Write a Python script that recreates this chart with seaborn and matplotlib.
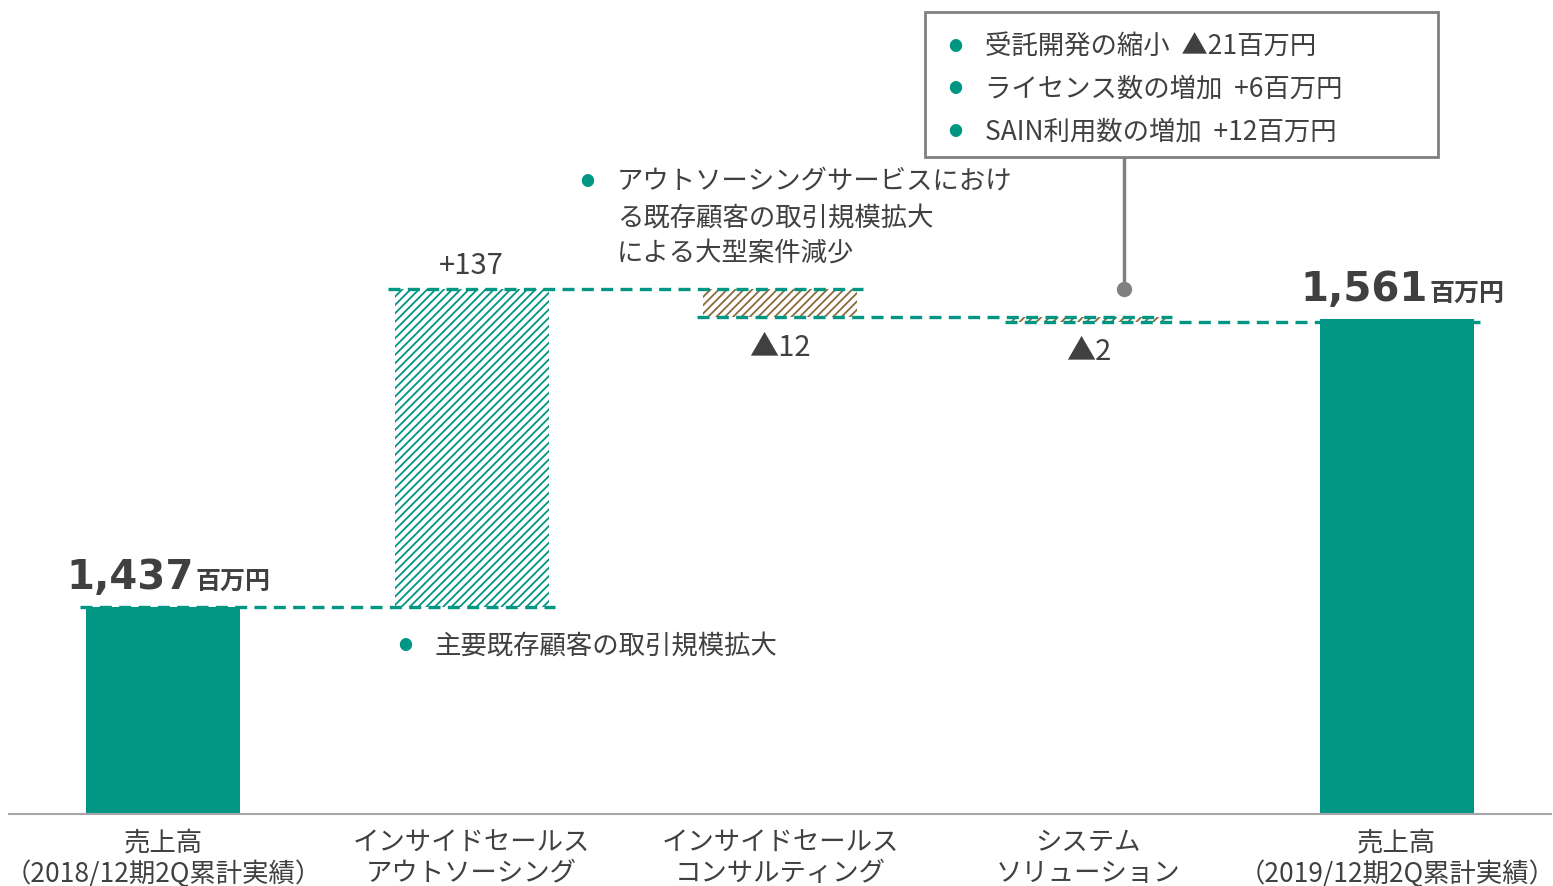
import matplotlib
matplotlib.use('Agg')
import matplotlib.pyplot as plt
import matplotlib.patches as mpatches
import seaborn as sns
import pandas as pd

# データ
categories = ['売上高\n（2018/12期2Q累計実績）', 'インサイドセールス\nアウトソーシング',
              'インサイドセールス\nコンサルティング', 'システム\nソリューション',
              '売上高\n（2019/12期2Q累計実績）']
values = [1437, 137, -12, -2, 1561]
delta_labels = ['', '+137', '▲12', '▲2', '']
total_labels = ['1,437', '', '', '', '1,561']

teal = '#009684'
brown = '#8B6A3A'
gray_txt = '#404040'

sns.set_theme(style='white')
plt.rcParams['font.family'] = ['Noto Sans CJK JP', 'DejaVu Sans']
plt.rcParams['hatch.linewidth'] = 1.3

# 累積値
bottoms, tops, levels = [], [], []
level = 0
for i, v in enumerate(values):
    if i == 0 or i == len(values) - 1:
        bottoms.append(0)
        tops.append(v)
        level = v
    else:
        new = level + v
        bottoms.append(min(level, new))
        tops.append(max(level, new))
        level = new
    levels.append(level)

df = pd.DataFrame({'cat': categories, 'top': tops})

W, H = 1553, 886
fig = plt.figure(figsize=(W / 100, H / 100), dpi=100)
ax = fig.add_axes([9 / W, 72 / H, 1542 / W, 814 / H])

sns.barplot(data=df, x='cat', y='top', ax=ax, width=0.5, color=teal, saturation=1)

for i, p in enumerate(ax.patches):
    p.set_y(bottoms[i])
    p.set_height(tops[i] - bottoms[i])
    if i == 1:
        p.set_facecolor('white')
        p.set_edgecolor(teal)
        p.set_hatch('////')
        p.set_linewidth(0)
    elif i in (2, 3):
        p.set_facecolor('white')
        p.set_edgecolor(brown)
        p.set_hatch('////')
        p.set_linewidth(0)
    else:
        p.set_linewidth(0)

# 点線のコネクタ
for i in range(len(values) - 1):
    ax.plot([i - 0.27, i + 1.27], [levels[i], levels[i]], color=teal, lw=2.4,
            ls=(0, (3.6, 2.2)), zorder=5)

ax.set_ylim(1348, 1698.5)
ax.set_xlim(-0.5, 4.5)
ax.set_xlabel('')
ax.set_ylabel('')
ax.set_yticks([])
for s in ['top', 'left', 'right']:
    ax.spines[s].set_visible(False)
ax.spines['bottom'].set_color('#A6A6A6')
ax.spines['bottom'].set_linewidth(1.5)
ax.tick_params(axis='x', length=0, pad=11, labelsize=19, labelcolor=gray_txt)
for t in ax.get_xticklabels():
    t.set_linespacing(1.2)

# 増減ラベル
for i, lab in enumerate(delta_labels):
    if not lab:
        continue
    if values[i] > 0:
        ax.annotate(lab, (i, tops[i]), xytext=(0, 17), textcoords='offset points',
                    ha='center', va='center', fontsize=21, color=gray_txt)
    else:
        ax.annotate(lab, (i, bottoms[i]), xytext=(0, -22), textcoords='offset points',
                    ha='center', va='center', fontsize=21, color=gray_txt)

# 合計ラベル
for i, lab in enumerate(total_labels):
    if not lab:
        continue
    ax.annotate(lab, (i + 0.1, tops[i]), xytext=(0, 13), textcoords='offset points',
                ha='right', va='baseline', fontsize=29, fontweight='bold',
                color=gray_txt, family='DejaVu Sans')
    ax.annotate('百万円', (i + 0.105, tops[i]), xytext=(0, 13), textcoords='offset points',
                ha='left', va='baseline', fontsize=18, fontweight='bold', color=gray_txt)


def fx(x):
    return x / W


def fy(y):
    return 1 - y / H


def bullet(x, y, text):
    fig.text(fx(x), fy(y), '●', fontsize=10, color=teal, ha='center', va='center')
    fig.text(fx(x + 30), fy(y), text, fontsize=19, color=gray_txt, ha='left', va='center')


bullet(405, 646, '主要既存顧客の取引規模拡大')
bullet(587, 182, 'アウトソーシングサービスにおけ')
fig.text(fx(617), fy(218), 'る既存顧客の取引規模拡大', fontsize=19, color=gray_txt, ha='left', va='center')
fig.text(fx(617), fy(253), 'による大型案件減少', fontsize=19, color=gray_txt, ha='left', va='center')

# 右上の枠
box = mpatches.Rectangle((fx(925), fy(157)), 513 / W, 145 / H, transform=fig.transFigure,
                         facecolor='white', edgecolor='#808080', lw=2, zorder=3)
fig.patches.append(box)
bullet(955, 47, '受託開発の縮小  ▲21百万円')
bullet(955, 89, 'ライセンス数の増加  +6百万円')
bullet(955, 132, 'SAIN利用数の増加  +12百万円')

fig.lines.append(plt.Line2D([fx(1124), fx(1124)], [fy(157), fy(289)], transform=fig.transFigure,
                            color='#808080', lw=2.5))
fig.lines.append(plt.Line2D([fx(1124)], [fy(289)], transform=fig.transFigure, marker='o',
                            markersize=10, color='#808080'))

fig.savefig('out.png', dpi=100)
